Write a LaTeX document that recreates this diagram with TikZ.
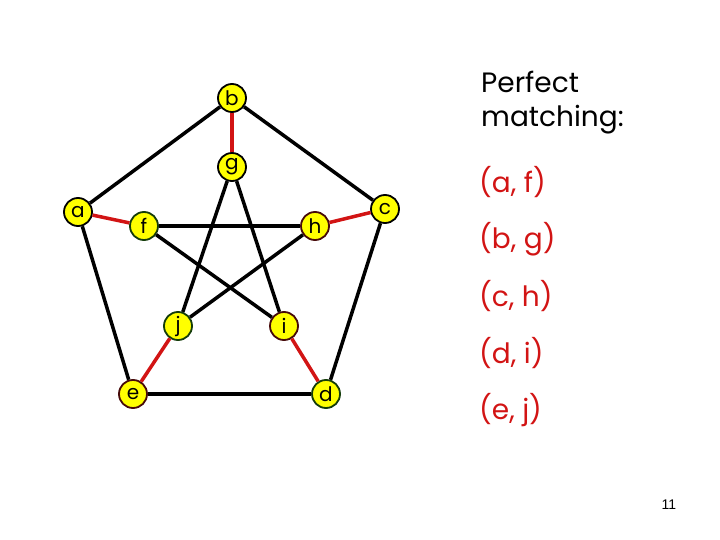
\documentclass[tikz,border=0pt]{standalone}
\usepackage{fontspec}
\setmainfont{Poppins}
\newfontfamily\numfont{Liberation Sans}
\definecolor{nodey}{RGB}{255,255,0}
\definecolor{matchred}{RGB}{210,20,20}
\definecolor{bdgreen}{RGB}{20,60,10}
\definecolor{bdred}{RGB}{70,10,10}
\begin{document}
\begin{tikzpicture}[x=1pt,y=-1pt,
  vtx/.style={circle,fill=nodey,draw=black,line width=1.8pt,minimum size=28pt,inner sep=0pt,font=\fontsize{20}{20}\selectfont},
  edge/.style={line width=3.5pt,black},
  medge/.style={line width=3.5pt,matchred},
  ttl/.style={anchor=west,font=\fontsize{28}{28}\selectfont,inner sep=0pt},
  mtxt/.style={anchor=west,font=\fontsize{28}{28}\selectfont,inner sep=0pt,text=matchred}]
\useasboundingbox (0,0) rectangle (720,540);
\node[vtx] (b) at (232,98) {b};
\node[vtx] (g) at (232,167) {g};
\node[vtx] (a) at (78,212) {a};
\node[vtx,draw=bdgreen] (f) at (144,226) {f};
\node[vtx,draw=bdred] (h) at (315,226) {h};
\node[vtx] (c) at (385,209) {c};
\node[vtx,draw=bdgreen] (j) at (178,326) {j};
\node[vtx,draw=bdred] (i) at (284,326) {i};
\node[vtx,draw=bdred] (e) at (133,394) {e};
\node[vtx,draw=bdgreen] (d) at (326,394) {d};
\draw[edge] (a) -- (b);
\draw[edge] (b) -- (c);
\draw[edge] (c) -- (d);
\draw[edge] (d) -- (e);
\draw[edge] (e) -- (a);
\draw[edge] (f) -- (h);
\draw[edge] (f) -- (i);
\draw[edge] (g) -- (j);
\draw[edge] (g) -- (i);
\draw[edge] (h) -- (j);
\draw[medge] (a) -- (f);
\draw[medge] (b) -- (g);
\draw[medge] (c) -- (h);
\draw[medge] (d) -- (i);
\draw[medge] (e) -- (j);
\node[ttl] (t1) at (481,82) {Perfect};
\node[ttl] (t2) at (481,120) {matching:};
\node[mtxt] (m1) at (479,182) {(a, f)};
\node[mtxt] (m2) at (479,239) {(b, g)};
\node[mtxt] (m3) at (479,296) {(c, h)};
\node[mtxt] (m4) at (479,353) {(d, i)};
\node[mtxt] (m5) at (479,410) {(e, j)};
\node[font=\numfont\fontsize{14}{14}\selectfont,inner sep=0pt] (pg) at (669,505) {11};
\end{tikzpicture}
\end{document}
